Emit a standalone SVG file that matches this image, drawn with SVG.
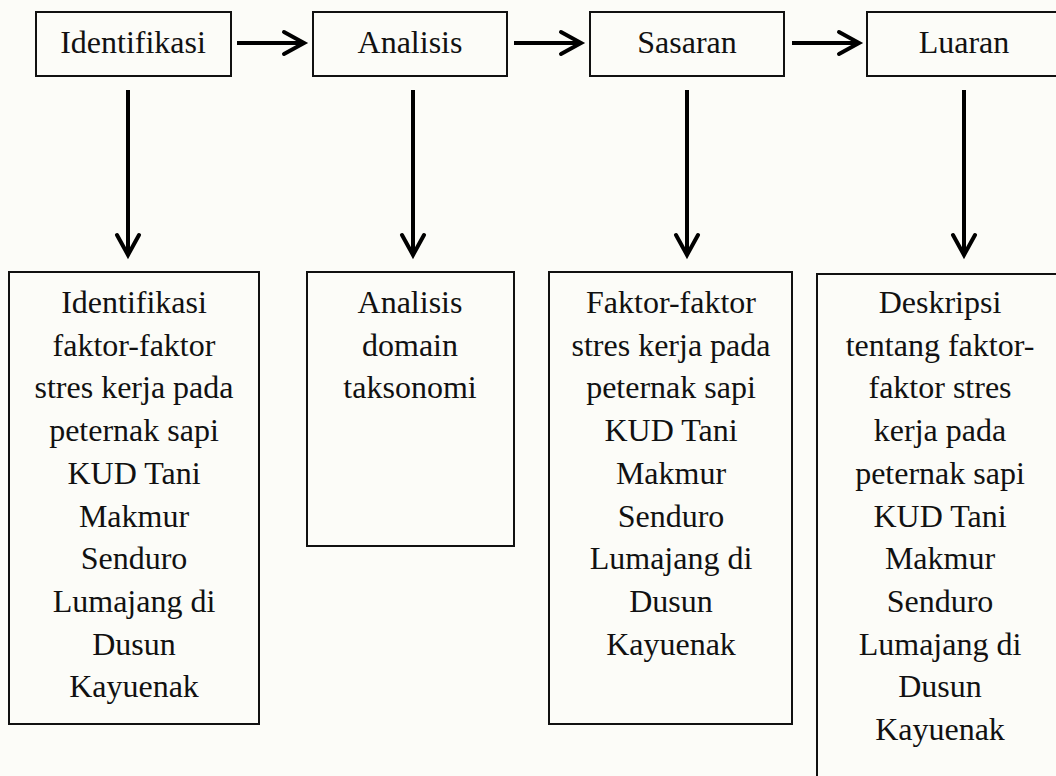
<svg xmlns="http://www.w3.org/2000/svg" width="1056" height="776" viewBox="0 0 1056 776">
<defs>
<style>
.box{fill:none;stroke:#111;stroke-width:2}
.t{font-family:"Liberation Serif","Times New Roman",serif;font-size:32px;fill:#111;text-anchor:middle}
.c{stroke:#000;stroke-width:4;fill:none}
</style>
<marker id="ah" viewBox="-26 -16 30 32" markerWidth="30" markerHeight="32" refX="0" refY="0" orient="auto" markerUnits="userSpaceOnUse" overflow="visible">
<path d="M-20,-11 L0,0 L-20,11" fill="none" stroke="#000" stroke-width="4" stroke-linejoin="miter" stroke-linecap="round"/>
</marker>
</defs>
<rect x="0" y="0" width="1056" height="776" fill="#fcfcf8"/>
<g id="connectors">
<line class="c" x1="237" y1="43" x2="304" y2="43" marker-end="url(#ah)"/>
<line class="c" x1="514" y1="43" x2="581" y2="43" marker-end="url(#ah)"/>
<line class="c" x1="792" y1="43" x2="859" y2="43" marker-end="url(#ah)"/>
<line class="c" x1="128" y1="90" x2="128" y2="255" marker-end="url(#ah)"/>
<line class="c" x1="413" y1="90" x2="413" y2="255" marker-end="url(#ah)"/>
<line class="c" x1="687" y1="90" x2="687" y2="255" marker-end="url(#ah)"/>
<line class="c" x1="964" y1="90" x2="964" y2="255" marker-end="url(#ah)"/>
</g>
<g id="n-identifikasi">
<rect class="box" x="36" y="12" width="195" height="64"/>
<text class="t" x="133" y="53">Identifikasi</text>
</g>
<g id="n-analisis">
<rect class="box" x="313" y="12" width="194" height="64"/>
<text class="t" x="410" y="53">Analisis</text>
</g>
<g id="n-sasaran">
<rect class="box" x="590" y="12" width="194" height="64"/>
<text class="t" x="687" y="53">Sasaran</text>
</g>
<g id="n-luaran">
<rect class="box" x="867" y="12" width="196" height="64"/>
<text class="t" x="964" y="53">Luaran</text>
</g>
<g id="n-identifikasi-detail">
<rect class="box" x="9" y="272" width="250" height="452"/>
<text class="t" x="134" y="313">Identifikasi</text>
<text class="t" x="134" y="355.7">faktor-faktor</text>
<text class="t" x="134" y="398.4">stres kerja pada</text>
<text class="t" x="134" y="441.1">peternak sapi</text>
<text class="t" x="134" y="483.8">KUD Tani</text>
<text class="t" x="134" y="526.5">Makmur</text>
<text class="t" x="134" y="569.2">Senduro</text>
<text class="t" x="134" y="611.9">Lumajang di</text>
<text class="t" x="134" y="654.6">Dusun</text>
<text class="t" x="134" y="697.3">Kayuenak</text>
</g>
<g id="n-analisis-detail">
<rect class="box" x="307" y="272" width="207" height="274"/>
<text class="t" x="410" y="313">Analisis</text>
<text class="t" x="410" y="355.7">domain</text>
<text class="t" x="410" y="398.4">taksonomi</text>
</g>
<g id="n-sasaran-detail">
<rect class="box" x="549" y="272" width="243" height="452"/>
<text class="t" x="671" y="313">Faktor-faktor</text>
<text class="t" x="671" y="355.7">stres kerja pada</text>
<text class="t" x="671" y="398.4">peternak sapi</text>
<text class="t" x="671" y="441.1">KUD Tani</text>
<text class="t" x="671" y="483.8">Makmur</text>
<text class="t" x="671" y="526.5">Senduro</text>
<text class="t" x="671" y="569.2">Lumajang di</text>
<text class="t" x="671" y="611.9">Dusun</text>
<text class="t" x="671" y="654.6">Kayuenak</text>
</g>
<g id="n-luaran-detail">
<rect class="box" x="817" y="274" width="246" height="520"/>
<text class="t" x="940" y="313">Deskripsi</text>
<text class="t" x="940" y="355.7">tentang faktor-</text>
<text class="t" x="940" y="398.4">faktor stres</text>
<text class="t" x="940" y="441.1">kerja pada</text>
<text class="t" x="940" y="483.8">peternak sapi</text>
<text class="t" x="940" y="526.5">KUD Tani</text>
<text class="t" x="940" y="569.2">Makmur</text>
<text class="t" x="940" y="611.9">Senduro</text>
<text class="t" x="940" y="654.6">Lumajang di</text>
<text class="t" x="940" y="697.3">Dusun</text>
<text class="t" x="940" y="740">Kayuenak</text>
</g>
</svg>
